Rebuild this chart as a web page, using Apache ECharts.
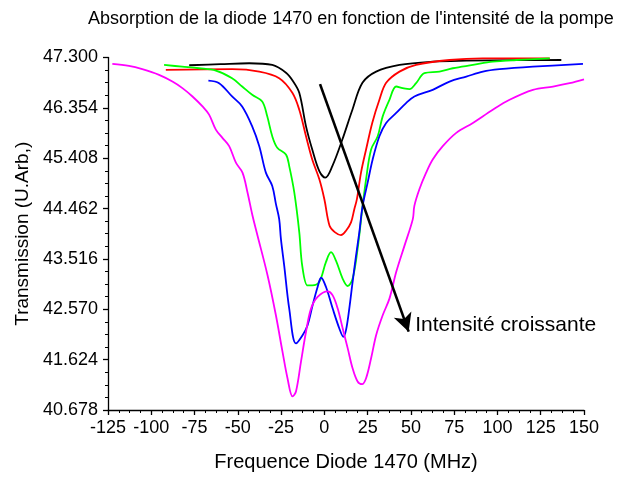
<!DOCTYPE html>
<html>
<head>
<meta charset="utf-8">
<script src="https://cdn.jsdelivr.net/npm/echarts@6/dist/echarts.min.js"></script>
<style>
html,body{margin:0;padding:0;background:#fff;}
#c{width:617px;height:477px;}
</style>
</head>
<body>
<div id="c"></div>
<script>
const titleText = "Absorption de la diode 1470 en fonction de l'intensité de la pompe";
const xName = "Frequence Diode 1470 (MHz)";
const yName = "Transmission (U.Arb,)";
const xMin = -125, xMax = 150, xStep = 25;
const yMin = 40.678, yMax = 47.300, yStep = 0.946;

const black = [[-78.1,47.154],[-60,47.175],[-43.4,47.192],[-30.1,47.160],[-22.0,47.010],[-18,46.85],[-14.5,46.637],[-10.6,46.007],[-7.0,45.572],[-2.9,45.167],[0.55,45.043],[4.6,45.260],[10.4,45.759],[16.2,46.319],[22.0,46.824],[29.9,47.035],[43.4,47.160],[62.5,47.222],[82.0,47.240],[110,47.250],[136.9,47.253]];
const red = [[-91.6,47.066],[-53.3,47.080],[-37.6,47.035],[-26.1,46.911],[-18.5,46.637],[-14.5,46.319],[-10.6,45.820],[-7.0,45.385],[-2.9,45.012],[0.0,44.638],[3.0,44.14],[6.0,44.02],[9.6,43.965],[12.5,44.046],[15.4,44.203],[17.3,44.451],[18.8,44.638],[21.2,45.142],[24.1,45.572],[27.7,46.076],[31.8,46.506],[35.7,46.824],[43.4,47.035],[53.0,47.160],[72.3,47.253],[91.4,47.285],[130.2,47.285]];
const green = [[-92.6,47.160],[-82.2,47.128],[-72.4,47.098],[-62.7,47.053],[-53.3,46.911],[-47.5,46.755],[-41.7,46.599],[-35.9,46.474],[-33.0,46.194],[-30.1,45.820],[-27.2,45.604],[-22.2,45.479],[-20.3,45.260],[-17.4,44.769],[-14.5,44.021],[-12.8,43.392],[-9.7,43.018],[-7.0,43.018],[-2.9,43.087],[0.95,43.461],[3.85,43.642],[6.7,43.485],[10.6,43.143],[13.5,43.007],[16.3,43.143],[19.2,43.704],[22.1,44.513],[24.1,45.012],[27.0,45.572],[30.8,45.820],[33.7,46.194],[37.6,46.506],[41.5,46.755],[45.3,46.725],[49.2,46.706],[53.0,46.818],[57.8,47.005],[66.5,47.035],[74.2,47.098],[85.8,47.160],[97.3,47.222],[110.9,47.253],[130.2,47.285]];
const blue = [[-67.0,46.867],[-60.8,46.818],[-53.3,46.568],[-47.5,46.381],[-41.7,46.007],[-37.6,45.634],[-33.8,45.137],[-30.1,44.886],[-28.0,44.55],[-26.1,44.264],[-25.1,43.891],[-23.2,43.392],[-20.3,42.583],[-16.4,41.929],[-12.6,42.084],[-9.7,42.271],[-6.8,42.645],[-3.9,42.988],[-1.9,43.162],[0.95,42.988],[4.8,42.583],[8.65,42.209],[11.0,42.054],[12.5,42.178],[14.4,42.583],[16.3,43.082],[18.3,43.579],[20.2,44.016],[22.1,44.513],[25.0,44.950],[27.9,45.385],[31.8,45.820],[35.7,46.071],[41.5,46.258],[47.2,46.444],[52.0,46.568],[62.6,46.693],[72.3,46.848],[82.0,46.941],[91.6,47.035],[101.2,47.080],[120.5,47.128],[149.4,47.179]];
const magenta = [[-122.5,47.179],[-112.9,47.141],[-105.2,47.080],[-95.5,46.973],[-87.8,46.848],[-82.0,46.725],[-76.2,46.568],[-70.4,46.381],[-66.6,46.226],[-62.7,45.946],[-58.9,45.791],[-55.0,45.634],[-51.1,45.324],[-47.3,45.137],[-44.4,44.763],[-41.5,44.326],[-38.6,43.952],[-32.8,43.205],[-28.0,42.458],[-24.2,41.774],[-21.3,41.275],[-18.4,40.934],[-16.4,41.027],[-13.5,41.587],[-10.6,42.148],[-7.7,42.583],[-3.9,42.802],[1.9,42.906],[4.8,42.831],[7.7,42.583],[10.6,42.209],[13.5,41.836],[16.3,41.462],[19.2,41.214],[21.8,41.163],[24.1,41.275],[27.0,41.649],[29.9,42.084],[33.7,42.458],[37.6,42.770],[41.5,43.269],[46.3,43.766],[51.1,44.264],[52.0,44.513],[54.9,44.825],[58.8,45.137],[62.6,45.385],[68.4,45.634],[76.2,45.884],[85.8,46.071],[97.3,46.319],[107.0,46.506],[120.5,46.693],[132.1,46.755],[141.7,46.818],[150.0,46.890]];

const arrowStart = [-2.5, 46.80];
const arrowEnd = [48.7, 42.15];
const arrowLabel = "Intensité croissante";
const arrowLabelAt = [52.5, 42.27];

const FONT = "Liberation Sans, Arial, sans-serif";
const chart = echarts.init(document.getElementById('c'), null, {renderer:'canvas'});

function mkSeries(name, data, color, extra) {
  return Object.assign({
    name, type:'line', data, smooth:0.35, symbol:'none',
    lineStyle:{color, width:1.8}, itemStyle:{color},
    animation:false, silent:true
  }, extra||{});
}

chart.setOption({
  animation:false,
  backgroundColor:'#ffffff',
  title:{text:titleText, left:83, top:5, textStyle:{fontFamily:FONT, fontSize:18, fontWeight:'normal', color:'#000'}},
  grid:{left:108, right:33, top:57.5, bottom:65, containLabel:false},
  xAxis:{type:'value', min:xMin, max:xMax, interval:xStep,
    name:xName, nameLocation:'middle', nameGap:42,
    nameTextStyle:{fontFamily:FONT, fontSize:20, color:'#000'},
    axisLine:{show:true, onZero:false, lineStyle:{color:'#000', width:1.3}},
    axisTick:{show:true, length:5, lineStyle:{color:'#000', width:1.3}},
    minorTick:{show:true, splitNumber:4, length:3, lineStyle:{color:'#000', width:1}},
    axisLabel:{fontFamily:FONT, fontSize:18, color:'#000', margin:9},
    splitLine:{show:false}},
  yAxis:{type:'value', min:yMin, max:yMax, interval:yStep,
    name:yName, nameLocation:'middle', nameGap:74,
    nameTextStyle:{fontFamily:FONT, fontSize:19, color:'#000'},
    axisLine:{show:true, onZero:false, lineStyle:{color:'#000', width:1.3}},
    axisTick:{show:true, length:5, lineStyle:{color:'#000', width:1.3}},
    minorTick:{show:true, splitNumber:4, length:3, lineStyle:{color:'#000', width:1}},
    axisLabel:{fontFamily:FONT, fontSize:18, color:'#000', margin:10, formatter:v=>v.toFixed(3)},
    splitLine:{show:false}},
  series:[
    mkSeries('black', black, '#000000', {
      markLine:{silent:true, symbol:['none','arrow'], symbolSize:[14,18], label:{show:false},
        lineStyle:{color:'#000', width:2.6, type:'solid'}, emphasis:{disabled:true},
        data:[[{coord:arrowStart},{coord:arrowEnd}]]},
      markPoint:{silent:true, symbol:'circle', symbolSize:0,
        label:{show:true, position:'right', distance:0, formatter:arrowLabel, fontFamily:FONT, fontSize:21, color:'#000'},
        data:[{coord:arrowLabelAt}]}
    }),
    mkSeries('red', red, '#ff0000'),
    mkSeries('green', green, '#00ff00'),
    mkSeries('blue', blue, '#0000ff'),
    mkSeries('magenta', magenta, '#ff00ff')
  ]
});
</script>
</body>
</html>
